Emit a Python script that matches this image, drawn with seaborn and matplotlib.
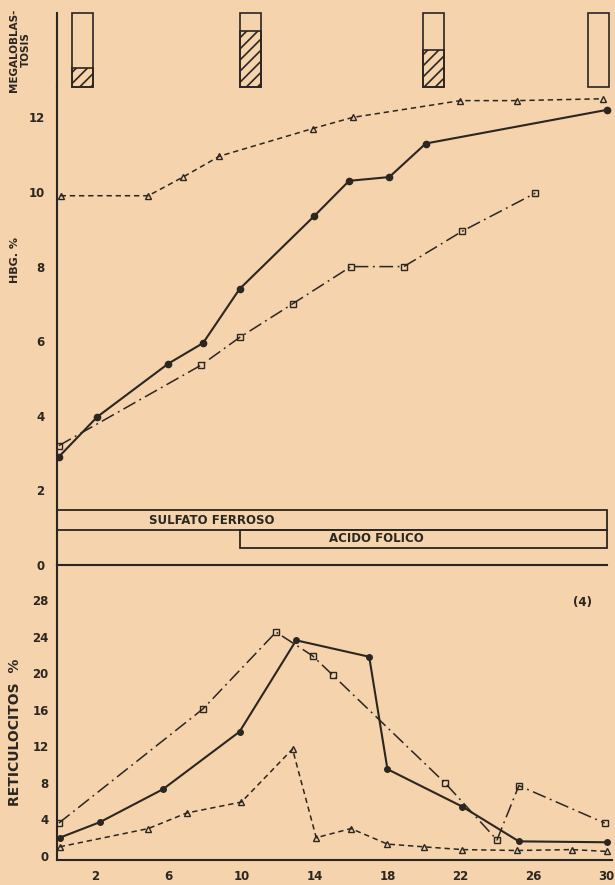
import matplotlib
matplotlib.use('Agg')
import matplotlib.pyplot as plt
from matplotlib.patches import Rectangle
import seaborn as sns

# ---- datos (dias de tratamiento) ----
# Hemoglobina (g %)
hb_sol_dias = [0, 2.1, 6.0, 7.9, 9.9, 14.0, 15.9, 18.1, 20.1, 30.0]
hb_sol = [2.9, 3.97, 5.4, 5.95, 7.4, 9.36, 10.3, 10.4, 11.3, 12.2]
hb_tri_dias = [0.1, 4.9, 6.8, 8.8, 13.9, 16.1, 22.0, 25.1, 29.8]
hb_tri = [9.9, 9.9, 10.4, 10.96, 11.7, 12.0, 12.45, 12.45, 12.5]
hb_cua_dias = [0, 7.8, 9.9, 12.8, 16.0, 18.9, 22.1, 26.1]
hb_cua = [3.2, 5.36, 6.1, 7.0, 8.0, 8.0, 8.95, 9.97]

# Reticulocitos (%)
ret_sol_dias = [0.05, 2.25, 5.7, 9.9, 13.0, 17.0, 18.0, 22.1, 25.2, 30.0]
ret_sol = [2.0, 3.7, 7.3, 13.6, 23.6, 21.8, 9.5, 5.4, 1.6, 1.5]
ret_cua_dias = [0, 7.9, 11.9, 13.9, 15.0, 21.15, 24.0, 25.2, 29.9]
ret_cua = [3.6, 16.1, 24.5, 21.9, 19.8, 8.0, 1.75, 7.7, 3.6]
ret_tri_dias = [0.05, 4.9, 7.0, 10.0, 12.8, 14.1, 16.0, 18.0, 20.0, 22.1, 25.1, 28.1, 30.0]
ret_tri = [1.0, 3.0, 4.7, 5.9, 11.7, 2.0, 3.0, 1.3, 1.0, 0.7, 0.6, 0.7, 0.5]

# Megaloblastosis (fraccion rayada de cada columna)
meg_dias = [1.3, 10.5, 20.5, 29.55]
meg_frac = [0.26, 0.76, 0.50, 0.0]

# Tratamientos
trat_nombres = ['SULFATO FERROSO', 'ACIDO FOLICO']
trat_inicio = [-0.1, 9.9]
trat_fin = [30.0, 30.0]

hb_ticks = [0, 2, 4, 6, 8, 10, 12]
ret_ticks = [0, 4, 8, 12, 16, 20, 24, 28]
dia_ticks = [2, 6, 10, 14, 18, 22, 26, 30]

PAPEL = '#F4D3AD'
TINTA = '#2b2620'
XLIM = (-0.1, 30.3)

sns.set_style('white')
plt.rcParams['font.family'] = ['DejaVu Sans']
plt.rcParams['font.weight'] = 'bold'
plt.rcParams['hatch.color'] = TINTA
plt.rcParams['hatch.linewidth'] = 1.2

fig = plt.figure(figsize=(6.15, 8.85), dpi=100)
fig.patch.set_facecolor(PAPEL)

W, H = 615, 885
izq, der = 57, 612


def eje(top, bottom):
    ax = fig.add_axes([izq / W, 1 - bottom / H, (der - izq) / W, (bottom - top) / H])
    ax.set_facecolor('none')
    for s in ['top', 'right']:
        ax.spines[s].set_visible(False)
    for s in ['left', 'bottom']:
        ax.spines[s].set_color(TINTA)
        ax.spines[s].set_linewidth(1.5)
    ax.set_xlim(*XLIM)
    ax.tick_params(colors=TINTA, labelsize=8.5)
    return ax


def serie(ax, x, y, marker, ls, lw, mfc, ms):
    sns.lineplot(x=x, y=y, ax=ax, color=TINTA, marker=marker, linestyle=ls,
                 linewidth=lw, markersize=ms, markerfacecolor=mfc,
                 markeredgecolor=TINTA, markeredgewidth=1.0,
                 errorbar=None, sort=False)


# ---- megaloblastosis ----
ax_m = eje(13, 87)
ax_m.set_ylim(0, 1)
ax_m.spines['bottom'].set_visible(False)
ax_m.set_xticks([])
ax_m.set_yticks([0])
ax_m.set_yticklabels([''])
ax_m.tick_params(axis='y', direction='out', length=5, width=1.2)
ancho = 1.15
for d, f in zip(meg_dias, meg_frac):
    ax_m.add_patch(Rectangle((d - ancho / 2, 0), ancho, 1, facecolor='none',
                             edgecolor=TINTA, linewidth=1.2, clip_on=False))
    if f > 0:
        ax_m.add_patch(Rectangle((d - ancho / 2, 0), ancho, f, facecolor='none',
                                 edgecolor=TINTA, linewidth=1.2, hatch='///',
                                 clip_on=False))

# ---- hemoglobina ----
ax_h = eje(87, 565)
ax_h.set_ylim(0, (565 - 87) / 37.3)
ax_h.spines['bottom'].set_bounds(XLIM[0], 30.0)
ax_h.set_xticks([])
ax_h.set_yticks(hb_ticks)
ax_h.tick_params(axis='y', direction='in', length=3, pad=9)
serie(ax_h, hb_tri_dias, hb_tri, '^', (0, (3.5, 2.5)), 1.1, 'none', 4.5)
serie(ax_h, hb_cua_dias, hb_cua, 's', (0, (9, 3, 1.2, 3)), 1.1, 'none', 4)
serie(ax_h, hb_sol_dias, hb_sol, 'o', '-', 1.5, TINTA, 4.5)

ax_h.barh([1.205, 0.70], [trat_fin[0] - trat_inicio[0], trat_fin[1] - trat_inicio[1]],
          left=trat_inicio, height=[0.53, 0.48], facecolor='none',
          edgecolor=TINTA, linewidth=1.3)
ax_h.text(8.4, 1.2, trat_nombres[0], ha='center', va='center', fontsize=8.5,
          color=TINTA, fontweight='bold')
ax_h.text(17.4, 0.7, trat_nombres[1], ha='center', va='center', fontsize=8.5,
          color=TINTA, fontweight='bold')

# ---- reticulocitos ----
ax_r = eje(565, 860)
ax_r.set_ylim(-0.44, 31.84)
ax_r.set_yticks(ret_ticks)
ax_r.set_xticks(dia_ticks)
ax_r.tick_params(axis='y', direction='in', length=3, pad=6)
ax_r.tick_params(axis='x', length=0, pad=7)
serie(ax_r, ret_cua_dias, ret_cua, 's', (0, (9, 3, 1.2, 3)), 1.1, 'none', 4)
serie(ax_r, ret_tri_dias, ret_tri, '^', (0, (3.5, 2.5)), 1.1, 'none', 4.5)
serie(ax_r, ret_sol_dias, ret_sol, 'o', '-', 1.5, TINTA, 4)
ax_r.text(28.7, 27.7, '(4)', ha='center', va='center', fontsize=8.5,
          color=TINTA, fontweight='bold')

for ax in (ax_m, ax_h, ax_r):
    ax.set_xlabel('')
    ax.set_ylabel('')

# ---- rotulos ----
fig.text(20 / W, 1 - 50 / H, 'MEGALOBLAS-\nTOSIS', rotation=90, ha='center',
         va='center', multialignment='center', fontsize=7.5, color=TINTA,
         fontweight='bold', linespacing=1.3)
fig.text(15 / W, 1 - 260 / H, 'HBG. %', rotation=90, ha='center', va='center',
         fontsize=8, color=TINTA, fontweight='bold')
fig.text(15 / W, 1 - 732 / H, 'RETICULOCITOS  %', rotation=90, ha='center',
         va='center', fontsize=10, color=TINTA, fontweight='bold')

fig.savefig('out.png', dpi=100, facecolor=PAPEL)
